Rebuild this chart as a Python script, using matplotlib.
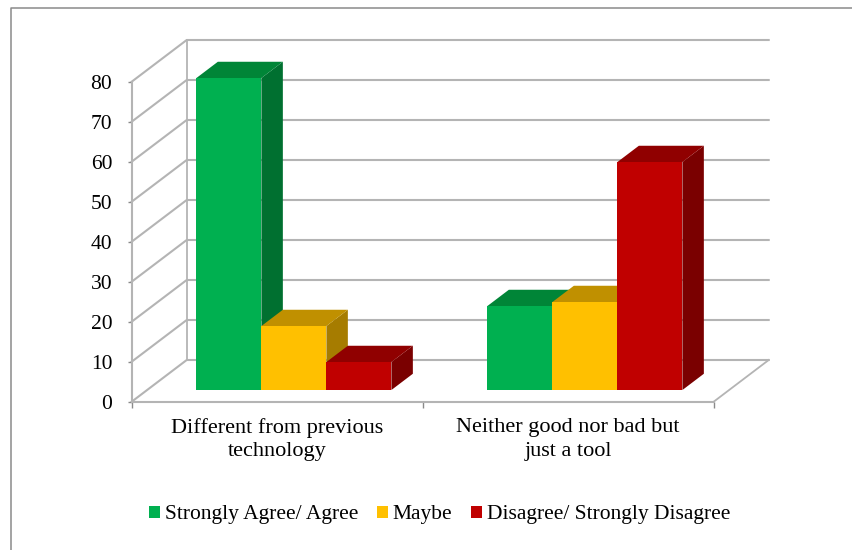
import matplotlib
matplotlib.use("Agg")
import matplotlib.pyplot as plt
from matplotlib.patches import Polygon, Rectangle
from matplotlib.lines import Line2D

categories = ["Different from previous\ntechnology", "Neither good nor bad but\njust a tool"]
series_names = ["Strongly Agree/ Agree", "Maybe", "Disagree/ Strongly Disagree"]
agree = [78, 21]
maybe = [16, 22]
disagree = [7, 57]
y_ticks = [0, 10, 20, 30, 40, 50, 60, 70, 80]

front_colors = ["#00B050", "#FFC000", "#C00000"]
top_colors = ["#008537", "#C09000", "#900000"]
side_colors = ["#007030", "#A67C00", "#7A0000"]

W, H = 852, 550
plt.rcParams["font.family"] = ["Liberation Serif", "DejaVu Serif"]
fig = plt.figure(figsize=(W / 100, H / 100), dpi=100, facecolor="white")

# Chart border: only the top and left edges fall inside the canvas
fig.add_artist(Line2D([10.5 / W, 10.5 / W, 1], [0, 1 - 8 / H, 1 - 8 / H], transform=fig.transFigure,
                      color="#8a8a8a", linewidth=1.1))

left, right, y0, y80 = 131.7, 713.7, 401.7, 81.7
ax = fig.add_axes([left / W, 1 - y0 / H, (right - left) / W, (y0 - y80) / H])
ax.set_xlim(0, 2)
ax.set_ylim(0, 80)
ax.patch.set_visible(False)

# Depth of the box expressed in data units
px_x = (right - left) / 2
px_y = (y0 - y80) / 80
wall_dx = 55 / px_x
wall_dy = 41.7 / px_y


def project(x, v, depth):
    return x + depth * wall_dx, v + depth * wall_dy


GRID = "#b4b4b4"
for v in y_ticks:
    ax.add_line(Line2D(*zip(project(0, v, 0), project(0, v, 1), project(2, v, 1)),
                       color=GRID, lw=1.5, clip_on=False, zorder=1))
ax.add_line(Line2D(*zip(project(0, 80, 1), project(0, 0, 1)), color=GRID, lw=1.3, clip_on=False, zorder=1))
ax.add_line(Line2D(*zip(project(2, 0, 0), project(2, 0, 1)), color=GRID, lw=1.3, clip_on=False, zorder=1))

# Bars, painted left to right within a group so that neighbours overlap correctly
bar_w = 65 / px_x
gap = 49.3 / px_x
d0, d1 = 0.28, 0.67
for c, values in enumerate(zip(agree, maybe, disagree)):
    for s, v in enumerate(values):
        x0 = c + gap + s * bar_w
        x1 = x0 + bar_w
        face = [project(x0, 0, d0), project(x1, 0, d0), project(x1, v, d0), project(x0, v, d0)]
        top = [project(x0, v, d0), project(x1, v, d0), project(x1, v, d1), project(x0, v, d1)]
        side = [project(x1, 0, d0), project(x1, 0, d1), project(x1, v, d1), project(x1, v, d0)]
        z = 3 + s
        ax.add_patch(Polygon(side, facecolor=side_colors[s], edgecolor="none", clip_on=False, zorder=z))
        ax.add_patch(Polygon(top, facecolor=top_colors[s], edgecolor="none", clip_on=False, zorder=z))
        ax.add_patch(Polygon(face, facecolor=front_colors[s], edgecolor="none", clip_on=False, zorder=z))

for name in ("top", "right"):
    ax.spines[name].set_visible(False)
for name in ("left", "bottom"):
    ax.spines[name].set_color(GRID)
    ax.spines[name].set_linewidth(1.5)

ax.set_yticks(y_ticks)
ax.tick_params(axis="y", labelsize=15.5, color="#8a8a8a", length=3, width=1, pad=11, labelcolor="#000000")
ax.set_xticks([0, 1, 2])
ax.set_xticklabels([])
ax.set_xticks([0.5, 1.5], minor=True)
ax.set_xticklabels(categories, minor=True, fontsize=16, color="#000000", linespacing=1.3)
ax.tick_params(axis="x", which="major", color="#8a8a8a", length=4, width=1)
ax.tick_params(axis="x", which="minor", length=0, pad=12)

handles = [Rectangle((0, 0), 1, 1, facecolor=c, edgecolor="none") for c in front_colors]
fig.legend(handles, series_names, loc="center", bbox_to_anchor=(439.5 / W, 1 - 515 / H), ncol=3, frameon=False,
           fontsize=15.5, handlelength=0.52, handleheight=0.52, handletextpad=0.2, columnspacing=0.88,
           labelcolor="#000000")

fig.savefig("out.png", dpi=100, facecolor="white")
